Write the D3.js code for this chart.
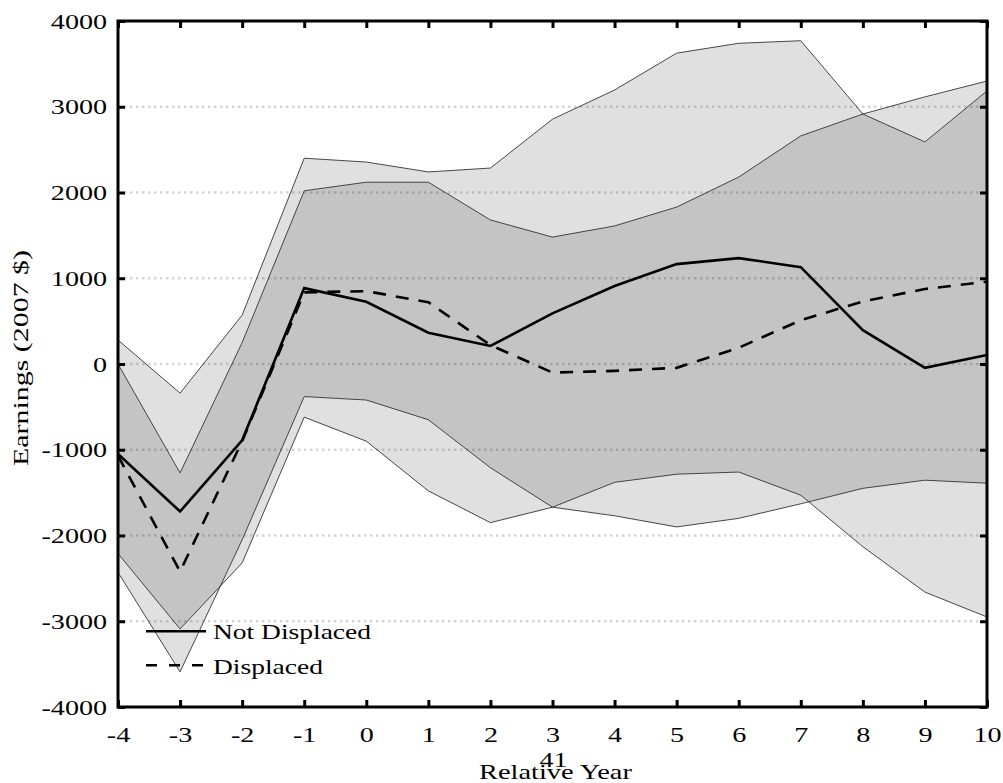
<!DOCTYPE html>
<html>
<head>
<meta charset="utf-8">
<script src="https://cdn.jsdelivr.net/npm/d3@7"></script>
<style>
  body { margin: 0; background: #fff; }
  text { font-family: "Liberation Serif", "Times New Roman", serif; fill: #000; }
</style>
</head>
<body>
<script>
// data (2007 $)
var years = [-4, -3, -2, -1, 0, 1, 2, 3, 4, 5, 6, 7, 8, 9, 10];

var notDisplaced   = [-1050, -1720, -890, 885, 725, 365, 210, 590, 910, 1165, 1235, 1130, 395, -45, 105];
var notDisplacedHi = [280, -340, 570, 2400, 2355, 2240, 2285, 2855, 3195, 3625, 3740, 3770, 2915, 2590, 3185];
var notDisplacedLo = [-2210, -3090, -2320, -620, -900, -1480, -1850, -1670, -1380, -1285, -1260, -1530, -2130, -2660, -2950];

var displaced   = [-1070, -2420, -900, 835, 850, 720, 220, -100, -80, -45, 190, 510, 730, 875, 960];
var displacedHi = [0, -1270, 250, 2020, 2120, 2120, 1680, 1480, 1610, 1830, 2180, 2660, 2915, 3115, 3300];
var displacedLo = [-2430, -3590, -2050, -380, -420, -650, -1210, -1670, -1770, -1900, -1800, -1630, -1450, -1355, -1390];

var yTicks = [-4000, -3000, -2000, -1000, 0, 1000, 2000, 3000, 4000];
var gridTicks = [-3000, -2000, -1000, 0, 1000, 2000, 3000];

var margin = {top: 21, right: 16, bottom: 76, left: 118},
  width = 1003 - margin.left - margin.right,
  height = 783 - margin.top - margin.bottom;

// the original figure's type is set wide
var stretch = 1.28;

var svg = d3.select("body").append("svg")
  .attr("width", 1003)
  .attr("height", 783)
  .append("g")
  .attr("transform", "translate(" + margin.left + "," + margin.top + ")");

var x = d3.scaleLinear().domain([-4, 10]).range([0, width]);
var y = d3.scaleLinear().domain([-4000, 4000]).range([height, 0]);

var band = (lo, hi) => d3.area()
  .x((d, i) => x(years[i]))
  .y0((d, i) => y(lo[i]))
  .y1((d, i) => y(hi[i]))(years);

var line = (vals) => d3.line()
  .x((d, i) => x(years[i]))
  .y((d, i) => y(vals[i]))(years);

// shaded confidence bands, overlap gets darker
[[notDisplacedLo, notDisplacedHi], [displacedLo, displacedHi]].forEach(b => {
  svg.append("path")
    .attr("d", band(b[0], b[1]))
    .style("fill", "#000")
    .style("fill-opacity", 0.12)
    .style("stroke", "none");
});

// dotted grid
svg.append("g")
  .selectAll("line")
  .data(gridTicks)
  .enter()
  .append("line")
  .attr("x1", 0)
  .attr("x2", width)
  .attr("y1", d => y(d))
  .attr("y2", d => y(d))
  .style("stroke", "#000")
  .style("stroke-opacity", 0.16)
  .style("stroke-width", 2.5)
  .style("stroke-dasharray", "2.5,3.5");

// band edges
[notDisplacedLo, notDisplacedHi, displacedLo, displacedHi].forEach(v => {
  svg.append("path")
    .attr("d", line(v))
    .style("fill", "none")
    .style("stroke", "#333")
    .style("stroke-width", 0.9);
});

svg.append("path")
  .attr("d", line(notDisplaced))
  .style("fill", "none")
  .style("stroke", "#000")
  .style("stroke-width", 2.6);

svg.append("path")
  .attr("d", line(displaced))
  .style("fill", "none")
  .style("stroke", "#000")
  .style("stroke-width", 2.6)
  .style("stroke-dasharray", "13,10");

// axes with inward ticks
var fmt = d => String(d);

var gx = svg.append("g")
  .attr("transform", "translate(0," + height + ")")
  .call(d3.axisBottom(x).tickValues(years).tickFormat(fmt).tickSizeInner(-7).tickSizeOuter(0).tickPadding(19));
var gy = svg.append("g")
  .call(d3.axisLeft(y).tickValues(yTicks).tickFormat(fmt).tickSizeInner(-7).tickSizeOuter(0).tickPadding(8.5));
var gt = svg.append("g")
  .call(d3.axisTop(x).tickValues(years).tickFormat("").tickSizeInner(-7).tickSizeOuter(0));
var gr = svg.append("g")
  .attr("transform", "translate(" + width + ",0)")
  .call(d3.axisRight(y).tickValues(yTicks).tickFormat("").tickSizeInner(-7).tickSizeOuter(0));

[gx, gy, gt, gr].forEach(g => {
  g.select(".domain").remove();
  g.selectAll(".tick line").style("stroke", "#000").style("stroke-width", 3);
  g.selectAll(".tick text")
    .attr("transform", "scale(" + stretch + ",1)")
    .style("font-family", "'Liberation Serif', serif")
    .style("font-size", "22px")
    .style("fill", "#000");
});

svg.append("rect")
  .attr("width", width)
  .attr("height", height)
  .style("fill", "none")
  .style("stroke", "#000")
  .style("stroke-width", 3);

// legend
var legend = svg.append("g").attr("transform", "translate(28," + (y(-3000) + 10) + ")");
legend.append("line")
  .attr("x1", 0).attr("x2", 60).attr("y1", 0).attr("y2", 0)
  .style("stroke", "#000").style("stroke-width", 2.6);
legend.append("text")
  .attr("transform", "translate(67,8) scale(1.25,1)")
  .style("font-size", "22px")
  .text("Not Displaced");
legend.append("line")
  .attr("x1", 0).attr("x2", 60).attr("y1", 34).attr("y2", 34)
  .style("stroke", "#000").style("stroke-width", 2.6)
  .style("stroke-dasharray", "11,12");
legend.append("text")
  .attr("transform", "translate(67,43) scale(1.25,1)")
  .style("font-size", "22px")
  .text("Displaced");

// titles
svg.append("text")
  .attr("transform", "translate(" + (-90) + "," + (height / 2 - 6) + ") rotate(-90) scale(1.36,1)")
  .attr("text-anchor", "middle")
  .style("font-size", "22px")
  .text("Earnings (2007 $)");

svg.append("text")
  .attr("transform", "translate(" + (width / 2 + 3) + "," + (height + 72) + ") scale(1.29,1)")
  .attr("text-anchor", "middle")
  .style("font-size", "22px")
  .text("Relative Year");

svg.append("text")
  .attr("transform", "translate(" + (width / 2 + 1) + "," + (height + 60) + ") scale(1.27,1)")
  .attr("text-anchor", "middle")
  .style("font-size", "22px")
  .text("41");
</script>
</body>
</html>
